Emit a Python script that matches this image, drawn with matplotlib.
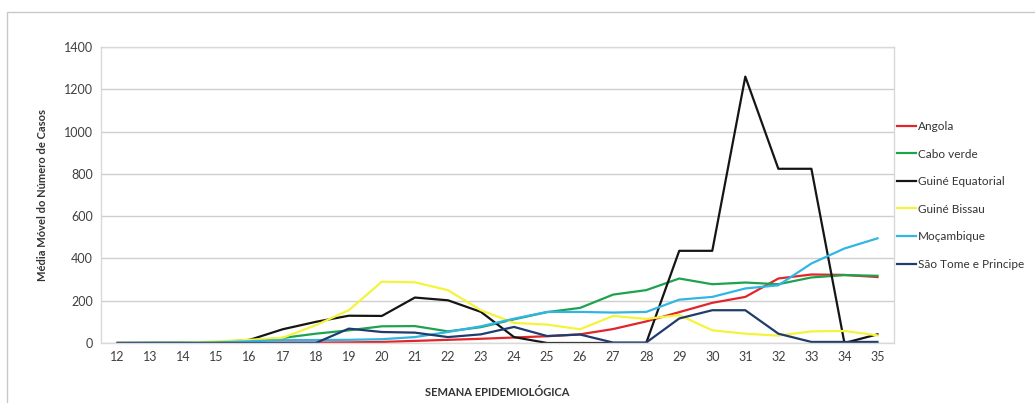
import matplotlib
matplotlib.use("Agg")
import matplotlib.pyplot as plt
from matplotlib.patches import Rectangle

plt.rcParams['font.family'] = ['Lato', 'DejaVu Sans']

semanas = list(range(12, 36))

angola = [0, 0, 0, 0, 1, 2, 2, 3, 5, 10, 15, 20, 26, 32, 41, 66, 102, 146, 190, 218, 305, 324, 322, 312]
cabo_verde = [0, 1, 2, 4, 10, 24, 44, 60, 79, 80, 55, 75, 112, 146, 166, 229, 250, 305, 278, 286, 278, 310, 321, 318]
guine_eq = [0, 0, 0, 2, 15, 65, 100, 129, 128, 215, 202, 147, 28, 0, 0, 0, 0, 436, 436, 1260, 824, 824, 0, 41]
guine_bissau = [0, 0, 2, 8, 15, 25, 84, 155, 290, 287, 250, 155, 95, 87, 65, 128, 114, 132, 60, 44, 35, 55, 57, 36]
mocambique = [0, 0, 1, 3, 8, 14, 14, 15, 18, 28, 52, 79, 115, 147, 147, 144, 147, 205, 218, 258, 273, 376, 447, 495]
sao_tome = [0, 0, 0, 0, 0, 0, 0, 68, 52, 49, 28, 41, 76, 33, 40, 2, 2, 116, 155, 155, 44, 5, 5, 5]

series = [
    ("Angola", angola, "#e0262b"),
    ("Cabo verde", cabo_verde, "#1fa24f"),
    ("Guiné Equatorial", guine_eq, "#151515"),
    ("Guiné Bissau", guine_bissau, "#f4f43c"),
    ("Moçambique", mocambique, "#31b6e4"),
    ("São Tome e Principe", sao_tome, "#1f3c6d"),
]

fig = plt.figure(figsize=(10.35, 4.03), dpi=100)
fig.patches.append(Rectangle((7 / 1035, -0.1), 1.2, 1 - 12 / 403 + 0.1,
                             transform=fig.transFigure, fill=False,
                             edgecolor="#c8c8c8", linewidth=1.0))

ax = fig.add_axes([101 / 1035, 1 - 343 / 403, 793 / 1035, 296 / 403])

for nome, vals, cor in series:
    ax.plot(semanas, vals, color=cor, linewidth=1.6, label=nome)

ax.set_xlim(11.5, 35.5)
ax.set_ylim(0, 1400)
ax.set_xticks(semanas)
ax.set_yticks(range(0, 1401, 200))
ax.yaxis.grid(True, color="#cfcfcf", linewidth=1.0)
ax.set_axisbelow(True)
for s in ax.spines.values():
    s.set_color("#d9d9d9")
    s.set_linewidth(1.0)
ax.tick_params(axis="both", length=0, labelsize=9, colors="#404040", pad=6)

ax.set_xlabel("SEMANA EPIDEMIOLÓGICA", fontsize=8, fontweight="bold",
              color="#333333", labelpad=17)
ax.set_ylabel("Média Móvel do Número de Casos", fontsize=8, fontweight="bold",
              color="#333333", labelpad=11)

leg = fig.legend(loc="upper left", bbox_to_anchor=(897 / 1035, 1 - 121 / 403),
                 frameon=False, fontsize=8.5, handlelength=1.6, handletextpad=0.15,
                 labelspacing=1.4, borderaxespad=0, borderpad=0)
for t in leg.get_texts():
    t.set_color("#333333")

fig.savefig("out.png", dpi=100)
